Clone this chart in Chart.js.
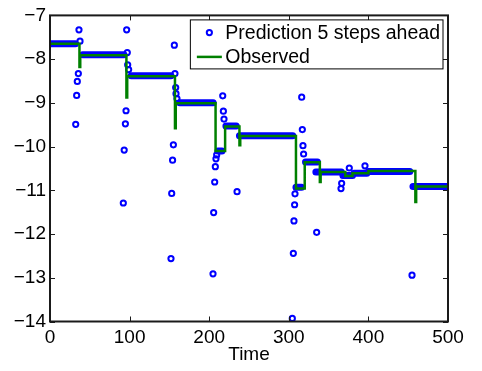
<!DOCTYPE html>
<html>
<head>
<meta charset="utf-8">
<script src="https://cdn.jsdelivr.net/npm/chart.js@4/dist/chart.umd.min.js"></script>
<style>
  html, body { margin: 0; padding: 0; background: #fff; }
  #chart { display: block; }
</style>
</head>
<body>
<canvas id="chart" width="482" height="371"></canvas>
<script>
// Observed signal: time where the level changes, and the level from there on
const obsTime  = [0, 37, 38, 96, 97, 157, 158, 208, 220, 238, 239, 309, 320, 339, 340, 371, 380, 400, 459, 460, 500];
const obsValue = [-7.65, -8.18, -7.91, -8.88, -8.39, -9.58, -9.01, -10.10, -9.54, -9.97, -9.76, -10.96, -10.36, -10.81, -10.58, -10.67, -10.61, -10.56, -11.27, -10.91, -10.91];

// Runs of predictions that sit on the observed level (dense markers)
const bandStart = [0, 41, 102, 163, 211, 221, 238, 309, 321, 334, 368, 382, 400, 456];
const bandEnd   = [32, 93, 152, 205, 216, 234, 305, 316, 336, 366, 380, 398, 452, 500];
const bandLevel = [-7.65, -7.90, -8.38, -9.00, -10.10, -9.53, -9.75, -10.93, -10.35, -10.58, -10.66, -10.61, -10.57, -10.91];

// Predictions that stray from the observed level
const predTime = [32.3, 33.5, 34.3, 35.6, 36.4, 37.7,
                  92.1, 93.2, 94.7, 95.5, 96.3, 97.1, 97.6, 98.8,
                  152, 152.9, 154, 155, 156.2, 157, 157.9, 158.3, 159.5,
                  204.8, 205.6, 206.9, 207.7, 208.5, 209.4, 217, 217.8, 218.6, 235,
                  304.4, 305.7, 306.5, 307.3, 307.8, 316.2, 317, 317.8, 318.6, 335,
                  365.6, 366.4, 376, 395.7, 454.8];
const predValue = [-9.49, -8.83, -8.51, -8.33, -7.33, -7.59,
                   -11.29, -10.08, -9.48, -9.18, -7.33, -7.85, -8.13, -8.24,
                   -12.56, -11.07, -10.31, -9.96, -7.68, -8.33, -8.65, -8.79, -8.90,
                   -12.91, -11.51, -10.81, -10.46, -10.28, -10.19, -8.84, -9.19, -9.37, -11.03,
                   -13.93, -12.44, -11.70, -11.33, -11.08, -8.87, -9.61, -9.98, -10.17, -11.96,
                   -10.96, -10.84, -10.49, -10.44, -12.94];

const xTicks = [0, 100, 200, 300, 400, 500];
const yTicks = [-14, -13, -12, -11, -10, -9, -8, -7];

const BLUE = '#0000ff';
const GREEN = '#008000';
const FONT = "'Liberation Sans', Arial, Helvetica, sans-serif";

function minusSign(v) {
    return String(v).replace('-', '\u2212');
}

// band of dense prediction markers, one flat piece per run
const bandData = [];
for (let i = 0; i < bandStart.length; i++) {
    bandData.push({ x: bandStart[i], y: bandLevel[i] });
    bandData.push({ x: bandEnd[i], y: bandLevel[i] });
    bandData.push({ x: bandEnd[i], y: null });
}

// box round the axes with inward ticks on all four sides
const frame = {
    id: 'frame',
    afterDatasetsDraw(chart) {
        const { ctx, chartArea: a, scales } = chart;
        ctx.save();
        ctx.strokeStyle = '#1a1a1a';
        ctx.lineWidth = 1;
        ctx.beginPath();
        xTicks.forEach(v => {
            const px = Math.round(scales.x.getPixelForValue(v)) + 0.5;
            ctx.moveTo(px, a.bottom); ctx.lineTo(px, a.bottom - 5);
            ctx.moveTo(px, a.top); ctx.lineTo(px, a.top + 5);
        });
        yTicks.forEach(v => {
            const py = Math.round(scales.y.getPixelForValue(v)) + 0.5;
            ctx.moveTo(a.left, py); ctx.lineTo(a.left + 5, py);
            ctx.moveTo(a.right, py); ctx.lineTo(a.right - 5, py);
        });
        ctx.stroke();
        ctx.lineWidth = 2;
        ctx.strokeRect(a.left, a.top, a.right - a.left, a.bottom - a.top);
        ctx.restore();
    }
};

// legend box in the upper right corner of the axes
const cornerLegend = {
    id: 'cornerLegend',
    afterDraw(chart) {
        const { ctx, chartArea: a } = chart;
        const labels = ['Prediction 5 steps ahead', 'Observed'];
        ctx.save();
        ctx.font = '19.5px ' + FONT;
        const w = Math.max(...labels.map(s => ctx.measureText(s).width));
        const right = a.right - 5;
        const left = right - w - 38;
        const top = a.top + 4.5;
        const h = 49;
        ctx.fillStyle = '#fff';
        ctx.fillRect(left, top, right - left, h);
        ctx.strokeStyle = '#000';
        ctx.lineWidth = 1;
        ctx.strokeRect(left, top, right - left, h);

        const row1 = top + 12.7;
        const row2 = top + 37;
        ctx.strokeStyle = BLUE;
        ctx.lineWidth = 2;
        ctx.beginPath();
        ctx.arc(left + 19, row1, 2.6, 0, Math.PI * 2);
        ctx.stroke();
        ctx.strokeStyle = GREEN;
        ctx.lineWidth = 2.5;
        ctx.beginPath();
        ctx.moveTo(left + 6.5, row2);
        ctx.lineTo(left + 31.5, row2);
        ctx.stroke();

        ctx.fillStyle = '#000';
        ctx.textBaseline = 'middle';
        ctx.fillText(labels[0], left + 35, row1 + 1);
        ctx.fillText(labels[1], left + 35, row2 + 1);
        ctx.restore();
    }
};

function initChart() {
    const ctx = document.getElementById('chart').getContext('2d');
    new Chart(ctx, {
        type: 'line',
        data: {
            datasets: [
                {
                    label: 'band',
                    data: bandData,
                    borderColor: BLUE,
                    borderWidth: 7,
                    borderCapStyle: 'round',
                    pointRadius: 0,
                    spanGaps: false,
                    order: 3
                },
                {
                    label: 'Prediction 5 steps ahead',
                    type: 'scatter',
                    data: predTime.map((t, i) => ({ x: t, y: predValue[i] })),
                    showLine: false,
                    pointStyle: 'circle',
                    pointRadius: 2.6,
                    pointBorderWidth: 2,
                    pointBorderColor: BLUE,
                    pointBackgroundColor: 'rgba(0,0,0,0)',
                    order: 2
                },
                {
                    label: 'Observed',
                    data: obsTime.map((t, i) => ({ x: t, y: obsValue[i] })),
                    stepped: true,
                    borderColor: GREEN,
                    borderWidth: 2.5,
                    pointRadius: 0,
                    order: 1
                }
            ]
        },
        options: {
            responsive: false,
            animation: false,
            layout: { padding: { top: 9.5, right: 34, left: 0, bottom: 0 } },
            plugins: {
                legend: { display: false },
                tooltip: { enabled: false }
            },
            scales: {
                x: {
                    type: 'linear',
                    min: 0,
                    max: 500,
                    afterFit: s => { s.height = 49.5; },
                    afterBuildTicks: s => { s.ticks = xTicks.map(v => ({ value: v })); },
                    grid: { display: false, drawTicks: false },
                    border: { display: false },
                    ticks: { color: '#000', font: { family: FONT, size: 19 }, padding: 5, maxRotation: 0 },
                    title: { display: true, text: 'Time', color: '#000', font: { family: FONT, size: 19 }, padding: { top: 0, bottom: 5 } }
                },
                y: {
                    min: -14,
                    max: -7,
                    afterFit: s => { s.width = 50; },
                    afterBuildTicks: s => { s.ticks = yTicks.map(v => ({ value: v })); },
                    grid: { display: false, drawTicks: false },
                    border: { display: false },
                    ticks: { color: '#000', font: { family: FONT, size: 19 }, padding: 4, callback: v => minusSign(v) }
                }
            }
        },
        plugins: [frame, cornerLegend]
    });
}

window.addEventListener('load', initChart);
</script>
</body>
</html>
